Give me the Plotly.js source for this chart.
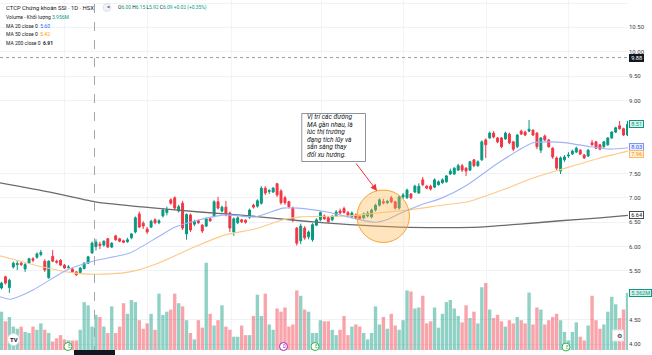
<!DOCTYPE html>
<html><head><meta charset="utf-8">
<script src="https://cdn.plot.ly/plotly-3.0.1.min.js"></script>
<style>html,body{margin:0;padding:0;background:#fff;overflow:hidden}#chart{width:652px;height:355px}</style>
</head><body><div id="chart"></div>
<script>
// ---- DATA ----
const opens = [
5.15,5.38,5.16,5.58,5.63,5.66,5.54,5.66,5.75,5.78,
5.84,5.70,5.36,5.80,5.70,5.72,5.62,5.57,5.54,5.48,
5.47,5.55,5.66,5.87,6.00,6.05,6.03,6.16,5.99,6.22,
6.16,6.12,6.10,6.18,6.30,6.67,6.48,6.36,6.40,6.55,
6.49,6.63,6.70,6.96,7.00,6.73,6.89,6.26,6.65,6.46,
6.53,6.44,6.42,6.57,6.63,6.92,6.73,6.81,6.69,6.30,
6.49,6.55,6.54,6.60,6.85,6.83,6.89,7.20,7.13,7.12,
7.29,7.14,7.00,6.92,6.79,6.38,6.12,6.38,6.20,6.14,
6.44,6.55,6.63,6.59,6.55,6.63,6.73,6.78,6.70,6.61,
6.65,6.62,6.59,6.63,6.61,6.75,6.85,6.92,6.90,7.00,
6.92,6.79,7.02,7.00,7.08,7.12,7.10,7.37,7.24,7.24,
7.22,7.27,7.31,7.33,7.49,7.49,7.57,7.66,7.61,7.57,
7.78,7.66,7.78,8.19,8.23,8.33,8.23,8.23,8.21,8.31,
8.15,8.05,8.37,8.35,8.37,8.39,8.33,7.98,8.27,8.19,
8.02,7.82,7.55,7.78,7.86,7.90,7.94,7.98,7.88,7.86,
8.13,8.15,8.09,8.05,8.09,8.23,8.35,8.48,8.42,8.29];
const highs = [
5.28,5.40,5.34,5.69,5.72,5.70,5.66,5.77,5.78,5.88,
5.93,5.74,5.72,5.93,5.73,5.74,5.64,5.62,5.56,5.50,
5.58,5.68,5.81,6.10,6.15,6.10,6.13,6.18,6.09,6.24,
6.18,6.14,6.18,6.28,6.62,6.72,6.52,6.40,6.55,6.58,
6.56,6.78,6.82,6.99,7.03,6.86,6.94,6.68,6.68,6.55,
6.56,6.46,6.60,6.59,6.95,7.02,6.84,6.94,6.72,6.60,
6.62,6.57,6.56,6.78,6.88,6.97,7.24,7.24,7.18,7.22,
7.31,7.18,7.04,6.94,6.82,6.40,6.47,6.42,6.33,6.48,
6.58,6.72,6.66,6.62,6.65,6.75,6.78,6.82,6.73,6.72,
6.68,6.65,6.70,6.73,6.78,6.88,6.99,6.98,6.96,7.04,
6.94,7.05,7.10,7.19,7.10,7.27,7.30,7.43,7.26,7.27,
7.40,7.36,7.40,7.47,7.60,7.63,7.70,7.70,7.63,7.76,
7.80,7.77,8.18,8.22,8.36,8.37,8.25,8.25,8.36,8.34,
8.17,8.31,8.40,8.38,8.60,8.41,8.35,8.25,8.30,8.21,
8.04,7.85,7.85,7.88,7.94,7.99,8.05,8.00,7.90,8.00,
8.19,8.17,8.11,8.17,8.25,8.37,8.46,8.58,8.44,8.58];
const lows = [
5.12,5.22,5.05,5.55,5.52,5.60,5.48,5.64,5.68,5.75,
5.80,5.48,5.34,5.68,5.65,5.60,5.54,5.55,5.46,5.40,
5.45,5.53,5.64,5.85,5.92,5.95,6.00,5.97,5.97,6.12,
6.09,6.07,6.08,6.15,6.27,6.38,6.36,6.26,6.38,6.46,
6.46,6.60,6.64,6.86,6.75,6.70,6.34,6.14,6.30,6.42,
6.46,6.28,6.40,6.51,6.60,6.76,6.70,6.62,6.30,6.22,
6.46,6.48,6.47,6.57,6.78,6.80,6.86,7.06,7.08,7.10,
7.02,6.86,6.86,6.78,6.50,6.02,6.05,6.14,6.15,6.10,
6.42,6.52,6.55,6.48,6.52,6.61,6.66,6.68,6.60,6.58,
6.56,6.55,6.56,6.60,6.58,6.72,6.82,6.87,6.87,6.89,
6.76,6.76,6.98,6.98,6.97,7.10,7.08,7.24,7.18,7.15,
7.20,7.25,7.29,7.31,7.47,7.47,7.55,7.53,7.45,7.55,
7.63,7.64,7.76,7.82,8.21,8.22,8.12,8.02,8.19,8.10,
7.96,8.02,8.29,8.27,8.35,8.27,8.00,7.92,8.17,8.03,
7.80,7.57,7.49,7.74,7.82,7.88,7.92,7.88,7.80,7.84,
8.07,8.00,7.98,8.03,8.07,8.21,8.33,8.40,8.27,8.27];
const closes = [
5.25,5.25,5.31,5.66,5.65,5.63,5.63,5.75,5.72,5.85,
5.88,5.52,5.70,5.70,5.68,5.62,5.56,5.58,5.48,5.42,
5.56,5.66,5.79,6.07,6.09,6.02,6.11,5.99,6.07,6.14,
6.11,6.09,6.14,6.26,6.59,6.40,6.42,6.30,6.52,6.49,
6.53,6.75,6.76,6.89,6.79,6.82,6.38,6.66,6.34,6.51,
6.49,6.32,6.57,6.53,6.92,6.79,6.81,6.65,6.38,6.57,
6.59,6.51,6.50,6.75,6.81,6.94,7.20,7.10,7.15,7.20,
7.06,6.90,6.90,6.82,6.55,6.07,6.42,6.18,6.30,6.45,
6.55,6.70,6.57,6.51,6.62,6.71,6.69,6.70,6.63,6.69,
6.59,6.57,6.67,6.69,6.75,6.85,6.96,6.90,6.93,6.92,
6.79,7.02,7.06,7.16,7.00,7.24,7.24,7.27,7.20,7.18,
7.37,7.33,7.37,7.45,7.55,7.61,7.66,7.57,7.55,7.74,
7.66,7.74,8.15,8.09,8.33,8.25,8.15,8.05,8.33,8.13,
8.00,8.29,8.31,8.29,8.41,8.29,8.05,8.23,8.19,8.05,
7.84,7.61,7.82,7.84,7.88,7.96,8.02,7.90,7.82,7.98,
8.09,8.02,8.00,8.15,8.23,8.35,8.44,8.42,8.29,8.51];
// volume, millions
const volumes = [
3.6,2.7,3.1,2.2,2.0,2.2,1.7,1.6,2.2,1.9,
2.5,1.9,1.6,0.8,1.1,1.4,1.0,0.9,0.9,0.9,
1.9,4.5,4.2,2.2,3.3,3.1,2.2,1.6,4.1,1.6,
2.2,4.4,3.4,4.7,4.5,2.8,2.0,2.5,3.4,1.9,
5.3,3.3,3.6,3.8,5.3,4.4,4.1,2.8,1.6,1.0,
2.8,2.1,8.2,3.4,2.3,2.8,4.2,2.2,1.9,1.25,
1.25,2.3,1.4,1.4,3.2,5.2,3.2,5.3,2.4,1.9,
3.9,3.6,4.0,2.2,2.4,5.6,5.1,3.8,3.6,1.6,
1.6,2.8,2.7,2.7,1.9,1.4,1.9,3.2,1.4,2.2,
2.4,2.2,1.6,1.0,1.6,4.1,2.4,3.1,2.0,3.4,
2.3,1.9,2.8,5.6,5.5,3.9,4.0,5.1,2.5,2.7,
4.0,2.1,3.4,4.5,4.7,3.9,3.2,2.6,4.2,3.0,
3.6,2.5,5.9,6.3,3.8,3.0,3.3,2.7,2.2,2.8,
2.5,3.1,2.8,2.5,5.4,2.4,4.0,3.8,2.4,2.8,
3.1,3.4,2.8,1.7,0.9,1.7,2.6,1.25,0.9,2.3,
5.1,2.8,2.0,2.4,3.6,5.0,4.3,3.0,3.8,5.362];
// moving averages (bar index, value)
const ma20X = [-0.4,2.2,8.0,16.6,23.2,32.6,39.8,44.1,48.4,56.8,64.4,71.5,75.3,82.7,91.1,94.9,98.2,101.2,106.3,111.9,118.2,126.6,135.0,139.3,143.6,149.5,154.6,159.1];
const ma20  = [4.97,4.92,5.11,5.52,5.70,5.87,6.20,6.40,6.51,6.65,6.61,6.79,6.79,6.71,6.55,6.50,6.56,6.68,6.85,7.00,7.26,7.74,8.13,8.15,8.13,8.05,8.00,8.03];
const ma50X = [-0.4,3.9,10.5,16.6,20.7,27.6,32.6,39.8,48.4,56.8,64.4,71.5,75.8,88.5,95.6,103.3,111.9,118.5,127.9,135.0,142.4,152.0,159.1];
const ma50  = [5.81,5.72,5.58,5.48,5.44,5.44,5.48,5.66,5.97,6.24,6.36,6.55,6.61,6.63,6.69,6.75,6.85,6.92,7.18,7.41,7.59,7.82,7.96];
const ma200X = [-0.4,12.3,23.8,37.7,50.4,63.1,75.8,88.5,101.2,111.4,121.5,131.7,141.9,152.0,159.1];
const ma200  = [7.31,7.12,6.92,6.80,6.71,6.63,6.53,6.45,6.40,6.39,6.40,6.46,6.53,6.59,6.64];
const priceTicks = [4.0,4.5,5.5,6.0,6.5,7.0,7.5,9.0,9.5,10.0,10.5,11.0];
const noteLines = ['Vị trí các đường','MA gần nhau, là','lúc thị trường','đang tích lũy và','sẵn sàng thay','đổi xu hướng.'];

// ---- drawing ----
const FONT = 'Roboto, "Liberation Sans", Arial, sans-serif';
const GREEN = '#089981', RED = '#f23645';
const idx = closes.map((_, i) => i);
const volColors = closes.map((c, i) => c >= opens[i] ? 'rgba(8,153,129,0.45)' : 'rgba(242,54,69,0.45)');
const PW = 628, PH = 350;
const px = v => v / PW;
const py = v => 1 - v / PH;

const traces = [
  {type:'bar', x:idx, y:volumes, marker:{color:volColors, line:{width:0}}, xaxis:'x', yaxis:'y', hoverinfo:'skip'},
  {type:'candlestick', x:idx, open:opens, high:highs, low:lows, close:closes, xaxis:'x', yaxis:'y2',
   increasing:{line:{color:GREEN, width:1}, fillcolor:GREEN},
   decreasing:{line:{color:RED, width:1}, fillcolor:RED}, whiskerwidth:0, hoverinfo:'skip'},
  {type:'scatter', mode:'lines', x:ma200X, y:ma200, yaxis:'y2', line:{color:'#6b6b6b', width:1.3, shape:'spline', smoothing:0.6}, hoverinfo:'skip'},
  {type:'scatter', mode:'lines', x:ma50X, y:ma50, yaxis:'y2', line:{color:'#fdca86', width:1.1, shape:'spline', smoothing:0.6}, hoverinfo:'skip'},
  {type:'scatter', mode:'lines', x:ma20X, y:ma20, yaxis:'y2', line:{color:'#9fb4f7', width:1.1, shape:'spline', smoothing:0.6}, hoverinfo:'skip'}
];

const ann = [];
const txt = (x, y, text, size, color, extra) => ann.push(Object.assign({xref:'paper', yref:'paper', x:px(x), y:py(y), xanchor:'left', yanchor:'middle', text, showarrow:false, font:{size, color, family:FONT}}, extra || {}));
const S = '\u00a0', T = '\u2009';
txt(4, 7.5, 'CTCP Chứng khoán SSI · 1D · HSX', 5.85, '#131722');
txt(104.5, 7.3, '=', 5.5, '#131722');
txt(116, 7.5, `<span style="color:#131722">O</span>6.00${S}<span style="color:#131722">H</span>6.15${S}<span style="color:#131722">L</span>5.92${S}<span style="color:#131722">C</span>6.09${S}+0.02${S}(+0.35%)`, 4.9, GREEN);
txt(4, 17, `Volume - Khối lượng${S}<span style="color:${GREEN}">3.956M</span>`, 5.0, '#131722');
txt(4, 25.8, `MA 20 close 0${S}${S}<span style="color:#2962ff">5.60</span>`, 5.0, '#131722');
txt(4, 34.3, `MA 50 close 0${S}${S}<span style="color:#ff9800">5.42</span>`, 5.0, '#131722');
txt(4, 42.8, `MA 200 close 0${S}${S}<b>6.91</b>`, 5.0, '#131722');

// note text box lines
noteLines.forEach((t, k) => txt(304.5, 117.5 + 7.35 * k, '<i>' + t + '</i>', 6.6, '#131722'));
// red arrow
ann.push({xref:'paper', yref:'paper', x:px(377), y:py(191), ax:-22, ay:-29, text:'', showarrow:true, arrowcolor:'#f0323c', arrowwidth:1, arrowhead:2, arrowsize:1.3});

// right-side value labels
const rlab = (yref, y, text, bg, border, color, ys) => ann.push({xref:'paper', yref, x:1, xanchor:'left', xshift:1, y, yshift:ys || 0, yanchor:'middle', text:T + text + T, showarrow:false, bgcolor:bg, bordercolor:border, borderwidth:1, borderpad:0, font:{size:5.6, color, family:FONT}});
rlab('y2', 9.88, '9.88', '#131722', '#131722', '#ffffff');
rlab('y2', 8.51, '8.51', '#dcf1ec', GREEN, GREEN);
rlab('y2', 8.03, '8.03', '#e6ecfd', '#7a98f2', '#2962ff', 0.8);
rlab('y2', 7.96, '7.96', '#fff2df', '#ffb95c', '#f08c00', -3);
rlab('y2', 6.64, '6.64', '#ffffff', '#4a4a4a', '#131722');
rlab('y', volumes[volumes.length - 1], '5.362M', '#dcf1ec', GREEN, GREEN);

// bottom icons
txt(8.2, 339.5, '<b>TV</b>', 6, '#131722');
txt(65.8, 346.5, 'E', 4.5, '#37b24d');
txt(281, 346.5, 'D', 4.5, '#9c27b0');
txt(312.8, 346.5, 'E', 4.5, '#37b24d');
txt(563.8, 347, 'E', 4.5, '#37b24d');
txt(614.5, 335.5, '⚙', 6, '#131722');

const shapes = [
  {type:'line', xref:'paper', yref:'paper', x0:px(94.5), x1:px(94.5), y0:-5/PH, y1:1, line:{color:'#a3a6af', width:1, dash:'dash'}},
  {type:'line', xref:'paper', yref:'y2', x0:0, x1:1, y0:9.88, y1:9.88, line:{color:'#9598a1', width:1, dash:'dot'}},
  {type:'circle', xref:'paper', yref:'paper', x0:px(357), x1:px(409.5), y0:py(242.5), y1:py(190), fillcolor:'rgba(255,178,70,0.35)', line:{color:'#f6a532', width:1}},
  {type:'rect', xref:'paper', yref:'paper', x0:px(301.8), x1:px(365.5), y0:py(161.5), y1:py(113.5), fillcolor:'#ffffff', line:{color:'#8d939e', width:1}},
  {type:'rect', xref:'paper', yref:'paper', x0:px(74), x1:px(115), y0:-6/PH, y1:0, fillcolor:'#131722', line:{width:0}},
  {type:'circle', xref:'paper', yref:'paper', x0:px(7.5), x1:px(19.5), y0:py(345.5), y1:py(333.5), fillcolor:'#ffffff', line:{color:'#d8dbe2', width:1}},
  {type:'circle', xref:'paper', yref:'paper', x0:px(64), x1:px(72), y0:py(350.5), y1:py(342.5), fillcolor:'#ffffff', line:{color:'#37b24d', width:1}},
  {type:'circle', xref:'paper', yref:'paper', x0:px(279.5), x1:px(287.5), y0:py(350.5), y1:py(342.5), fillcolor:'#ffffff', line:{color:'#9c27b0', width:1}},
  {type:'circle', xref:'paper', yref:'paper', x0:px(311), x1:px(319), y0:py(350.5), y1:py(342.5), fillcolor:'#ffffff', line:{color:'#37b24d', width:1}},
  {type:'circle', xref:'paper', yref:'paper', x0:px(562), x1:px(570), y0:py(351), y1:py(343), fillcolor:'#ffffff', line:{color:'#37b24d', width:1}},
  {type:'rect', xref:'paper', yref:'paper', x0:px(612.5), x1:px(623.5), y0:py(341), y1:py(330), fillcolor:'#ffffff', line:{color:'#e0e3eb', width:1}},
  {type:'circle', xref:'paper', yref:'paper', x0:px(103), x1:px(111), y0:py(11.5), y1:py(3.5), fillcolor:'#f0f3fa', line:{color:'#d1d4dc', width:0.6}}
];

const gridIdx = [16.1, 37.2, 58.5, 81.4, 102.2, 123.3, 143.9];

const layout = {
  width:652, height:355,
  margin:{l:0, r:24, t:0, b:5, pad:0},
  paper_bgcolor:'#ffffff', plot_bgcolor:'#ffffff',
  showlegend:false, hovermode:false, bargap:0.14,
  font:{family:FONT},
  xaxis:{range:[-0.381, 159.13], tickvals:gridIdx, showticklabels:false, ticks:'', showgrid:true, gridcolor:'#f2f4f8', zeroline:false, showline:false, rangeslider:{visible:false}, fixedrange:true},
  yaxis:{range:[0, 32.9], visible:false, showgrid:false, fixedrange:true},
  yaxis2:{overlaying:'y', side:'right', range:[3.877, 11.062], tickvals:priceTicks, tickformat:'.2f', ticks:'', showgrid:true, gridcolor:'#eff2f7', zeroline:false, showline:false, tickfont:{size:6, color:'#3a3e47', family:FONT}, fixedrange:true},
  shapes, annotations:ann
};
Plotly.newPlot('chart', traces, layout, {staticPlot:true, displayModeBar:false});
</script></body></html>
